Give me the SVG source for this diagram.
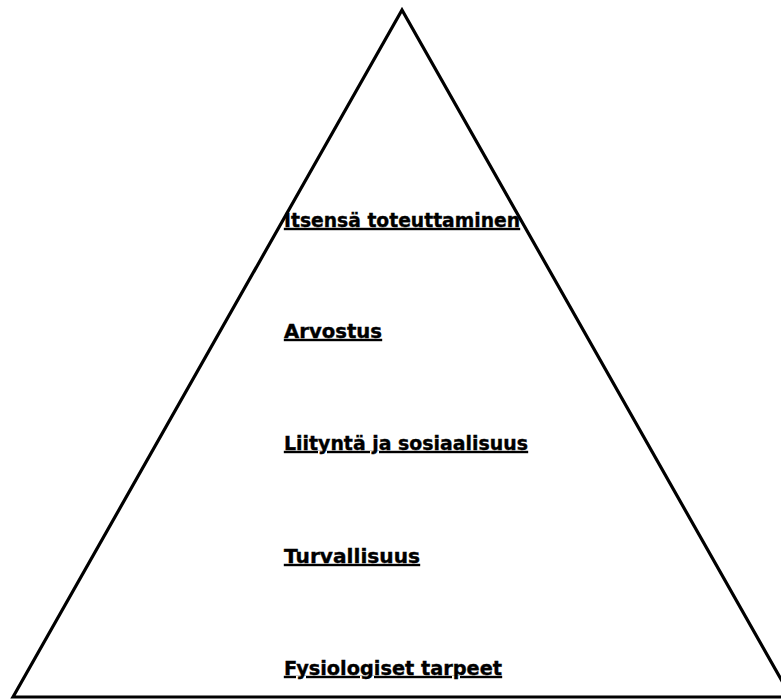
<svg xmlns="http://www.w3.org/2000/svg" width="781" height="699" viewBox="0 0 781 699">
  <style>
    .lbl { font-family: "DejaVu Sans", Verdana, sans-serif; font-weight: bold; font-size: 20px; fill: #000; stroke: #000; stroke-width: 0.4; text-decoration: underline; text-decoration-thickness: 3px; text-underline-offset: 4px; }
    .edge { fill: none; stroke: #000; stroke-width: 3.2; stroke-linejoin: miter; }
  </style>
  <rect width="781" height="699" fill="#fff"/>
  <g id="connectors">
    <path class="edge" d="M 13 697 L 402 10 L 791 697 Z"/>
  </g>
  <g id="level5"><text class="lbl" x="284" y="227" textLength="236" lengthAdjust="spacingAndGlyphs">Itsensä toteuttaminen</text></g>
  <g id="level4"><text class="lbl" x="284" y="338" textLength="98" lengthAdjust="spacingAndGlyphs">Arvostus</text></g>
  <g id="level3"><text class="lbl" x="284" y="450" textLength="244" lengthAdjust="spacingAndGlyphs">Liityntä ja sosiaalisuus</text></g>
  <g id="level2"><text class="lbl" x="284" y="563" textLength="136" lengthAdjust="spacingAndGlyphs">Turvallisuus</text></g>
  <g id="level1"><text class="lbl" x="284" y="675" textLength="218" lengthAdjust="spacingAndGlyphs">Fysiologiset tarpeet</text></g>
</svg>
